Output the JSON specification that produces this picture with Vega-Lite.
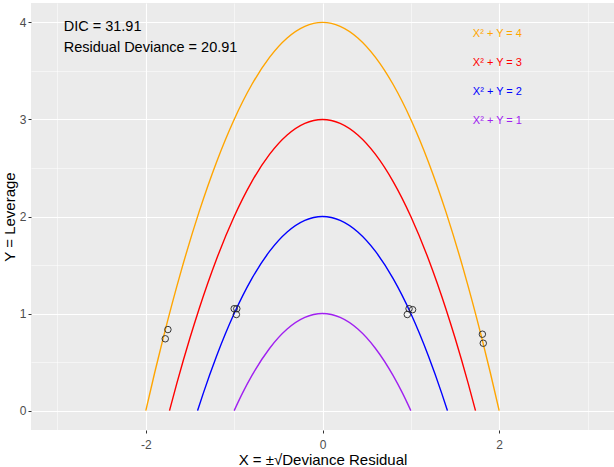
{
  "$schema": "https://vega.github.io/schema/vega-lite/v6.json",
  "width": 583,
  "height": 427,
  "autosize": {"type": "none"},
  "padding": {"left": 31, "top": 3, "right": 0, "bottom": 37},
  "background": "white",
  "config": {
    "font": "Liberation Sans",
    "view": {"fill": "#EBEBEB", "stroke": null}
  },
  "datasets": {
    "curves": [
      {"c": "4", "x": -2, "y": 0}, {"c": "4", "x": -1.9, "y": 0.39}, {"c": "4", "x": -1.8, "y": 0.76}, {"c": "4", "x": -1.6, "y": 1.44}, {"c": "4", "x": -1.4, "y": 2.04}, {"c": "4", "x": -1.2, "y": 2.56}, {"c": "4", "x": -1, "y": 3}, {"c": "4", "x": -0.8, "y": 3.36}, {"c": "4", "x": -0.6, "y": 3.64}, {"c": "4", "x": -0.4, "y": 3.84}, {"c": "4", "x": -0.2, "y": 3.96}, {"c": "4", "x": 0, "y": 4}, {"c": "4", "x": 0.2, "y": 3.96}, {"c": "4", "x": 0.4, "y": 3.84}, {"c": "4", "x": 0.6, "y": 3.64}, {"c": "4", "x": 0.8, "y": 3.36}, {"c": "4", "x": 1, "y": 3}, {"c": "4", "x": 1.2, "y": 2.56}, {"c": "4", "x": 1.4, "y": 2.04}, {"c": "4", "x": 1.6, "y": 1.44}, {"c": "4", "x": 1.8, "y": 0.76}, {"c": "4", "x": 1.9, "y": 0.39}, {"c": "4", "x": 2, "y": 0},
      {"c": "3", "x": -1.732, "y": 0}, {"c": "3", "x": -1.65, "y": 0.2775}, {"c": "3", "x": -1.5, "y": 0.75}, {"c": "3", "x": -1.4, "y": 1.04}, {"c": "3", "x": -1.2, "y": 1.56}, {"c": "3", "x": -1, "y": 2}, {"c": "3", "x": -0.8, "y": 2.36}, {"c": "3", "x": -0.6, "y": 2.64}, {"c": "3", "x": -0.4, "y": 2.84}, {"c": "3", "x": -0.2, "y": 2.96}, {"c": "3", "x": 0, "y": 3}, {"c": "3", "x": 0.2, "y": 2.96}, {"c": "3", "x": 0.4, "y": 2.84}, {"c": "3", "x": 0.6, "y": 2.64}, {"c": "3", "x": 0.8, "y": 2.36}, {"c": "3", "x": 1, "y": 2}, {"c": "3", "x": 1.2, "y": 1.56}, {"c": "3", "x": 1.4, "y": 1.04}, {"c": "3", "x": 1.5, "y": 0.75}, {"c": "3", "x": 1.65, "y": 0.2775}, {"c": "3", "x": 1.732, "y": 0},
      {"c": "2", "x": -1.414, "y": 0}, {"c": "2", "x": -1.35, "y": 0.1775}, {"c": "2", "x": -1.2, "y": 0.56}, {"c": "2", "x": -1, "y": 1}, {"c": "2", "x": -0.8, "y": 1.36}, {"c": "2", "x": -0.6, "y": 1.64}, {"c": "2", "x": -0.4, "y": 1.84}, {"c": "2", "x": -0.2, "y": 1.96}, {"c": "2", "x": 0, "y": 2}, {"c": "2", "x": 0.2, "y": 1.96}, {"c": "2", "x": 0.4, "y": 1.84}, {"c": "2", "x": 0.6, "y": 1.64}, {"c": "2", "x": 0.8, "y": 1.36}, {"c": "2", "x": 1, "y": 1}, {"c": "2", "x": 1.2, "y": 0.56}, {"c": "2", "x": 1.35, "y": 0.1775}, {"c": "2", "x": 1.414, "y": 0},
      {"c": "1", "x": -1, "y": 0}, {"c": "1", "x": -0.9, "y": 0.19}, {"c": "1", "x": -0.8, "y": 0.36}, {"c": "1", "x": -0.6, "y": 0.64}, {"c": "1", "x": -0.4, "y": 0.84}, {"c": "1", "x": -0.2, "y": 0.96}, {"c": "1", "x": 0, "y": 1}, {"c": "1", "x": 0.2, "y": 0.96}, {"c": "1", "x": 0.4, "y": 0.84}, {"c": "1", "x": 0.6, "y": 0.64}, {"c": "1", "x": 0.8, "y": 0.36}, {"c": "1", "x": 0.9, "y": 0.19}, {"c": "1", "x": 1, "y": 0}
    ],
    "obs": [
      {"x": -1.75, "y": 0.835}, {"x": -1.78, "y": 0.74},
      {"x": -1.0, "y": 1.05}, {"x": -0.97, "y": 1.05}, {"x": -0.975, "y": 0.99},
      {"x": 0.98, "y": 1.05}, {"x": 1.02, "y": 1.04}, {"x": 0.96, "y": 0.99},
      {"x": 1.81, "y": 0.787}, {"x": 1.82, "y": 0.694}
    ],
    "notes": [
      {"x": -2.93, "y": 3.95, "label": "DIC = 31.91"},
      {"x": -2.93, "y": 3.74, "label": "Residual Deviance = 20.91"}
    ],
    "keys": [
      {"c": "4", "x": 1.98, "y": 3.88, "label": "X² + Y = 4"},
      {"c": "3", "x": 1.98, "y": 3.58, "label": "X² + Y = 3"},
      {"c": "2", "x": 1.98, "y": 3.28, "label": "X² + Y = 2"},
      {"c": "1", "x": 1.98, "y": 2.98, "label": "X² + Y = 1"}
    ]
  },
  "encoding": {
    "x": {
      "field": "x", "type": "quantitative",
      "scale": {"domain": [-3.3, 3.3], "nice": false, "zero": false},
      "axis": {
        "title": "X = ±√Deviance Residual",
        "values": [-3, -2, -1, 0, 1, 2, 3],
        "labelExpr": "datum.value % 2 === 0 ? toString(datum.value) : ''",
        "grid": true,
        "gridColor": "white",
        "gridWidth": {"condition": {"test": "datum.value % 2 === 0", "value": 1.1}, "value": 0.5},
        "tickOpacity": {"condition": {"test": "datum.value % 2 === 0", "value": 1}, "value": 0},
        "domain": false,
        "tickSize": 3, "tickColor": "#333333", "tickWidth": 1,
        "labelFontSize": 12, "labelColor": "#4D4D4D", "labelPadding": 6,
        "titleFontSize": 15, "titleFontWeight": "normal", "titleColor": "#000000", "titlePadding": 2
      }
    },
    "y": {
      "field": "y", "type": "quantitative",
      "scale": {"domain": [-0.2, 4.2], "nice": false, "zero": false},
      "axis": {
        "title": "Y = Leverage",
        "values": [0, 0.5, 1, 1.5, 2, 2.5, 3, 3.5, 4],
        "labelExpr": "datum.value % 1 === 0 ? toString(datum.value) : ''",
        "grid": true,
        "gridColor": "white",
        "gridWidth": {"condition": {"test": "datum.value % 1 === 0", "value": 1.1}, "value": 0.5},
        "tickOpacity": {"condition": {"test": "datum.value % 1 === 0", "value": 1}, "value": 0},
        "domain": false,
        "tickSize": 3, "tickColor": "#333333", "tickWidth": 1,
        "labelFontSize": 12, "labelColor": "#4D4D4D", "labelPadding": 2,
        "titleFontSize": 15, "titleFontWeight": "normal", "titleColor": "#000000", "titlePadding": 2
      }
    }
  },
  "layer": [
    {
      "data": {"name": "curves"},
      "mark": {"type": "line", "strokeWidth": 1.4, "interpolate": "monotone", "clip": true},
      "encoding": {
        "color": {"field": "c", "type": "nominal", "scale": {"domain": ["1", "2", "3", "4"], "range": ["#A020F0", "#0000FF", "#FF0000", "#FFA500"]}, "legend": null}
      }
    },
    {
      "data": {"name": "obs"},
      "mark": {"type": "point", "shape": "circle", "filled": false, "size": 42, "stroke": "#222222", "strokeWidth": 0.9, "opacity": 1}
    },
    {
      "data": {"name": "notes"},
      "mark": {"type": "text", "align": "left", "baseline": "middle", "fontSize": 14.5, "color": "#000000"},
      "encoding": {"text": {"field": "label"}}
    },
    {
      "data": {"name": "keys"},
      "mark": {"type": "text", "align": "center", "baseline": "middle", "fontSize": 11},
      "encoding": {
        "text": {"field": "label"},
        "color": {"field": "c", "type": "nominal", "scale": {"domain": ["1", "2", "3", "4"], "range": ["#A020F0", "#0000FF", "#FF0000", "#FFA500"]}, "legend": null}
      }
    }
  ]
}
